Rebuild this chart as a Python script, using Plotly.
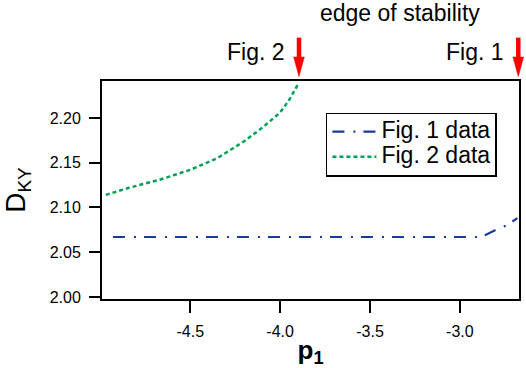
import plotly.graph_objects as go

# Fig. 1 data (blue, dash-dot)
p1_fig1 = [-4.93, -4.5, -4.0, -3.5, -3.0, -2.90, -2.86, -2.83, -2.79, -2.74, -2.68]
d_fig1 = [2.067, 2.067, 2.067, 2.067, 2.067, 2.067, 2.069, 2.072, 2.076, 2.080, 2.088]

# Fig. 2 data (green, dotted)
p1_fig2 = [-4.97, -4.84, -4.67, -4.50, -4.35, -4.20, -4.10, -4.00, -3.95, -3.90]
d_fig2 = [2.114, 2.122, 2.131, 2.142, 2.155, 2.174, 2.189, 2.206, 2.220, 2.238]

x_ticks = [-4.5, -4.0, -3.5, -3.0]
y_ticks = [2.00, 2.05, 2.10, 2.15, 2.20]

x_range = [-4.991, -2.671]
y_range = [1.9977, 2.2413]

# stability edges marked by red arrows
edge_labels = ["Fig. 2", "Fig. 1"]
edge_p1 = [-3.895, -2.675]

FONT = "Liberation Sans, Arial, sans-serif"

def big(txt):
    # legend rows keep a tight spacing while the text itself is larger
    return f"<span style='font-size:23px'>{txt}</span>"

fig = go.Figure()

fig.add_trace(go.Scatter(
    x=p1_fig1, y=d_fig1, mode="lines", name=big("Fig. 1 data"),
    line=dict(color="#1a3a9c", width=2.2, dash="12px,9px,2px,8px"),
))
fig.add_trace(go.Scatter(
    x=p1_fig2, y=d_fig2, mode="lines", name=big("Fig. 2 data"),
    line=dict(color="#00a055", width=2.5, dash="4px,3px"),
))

# red arrows above the frame (paper coords so they are not clipped)
span = x_range[1] - x_range[0]
for label, xv in zip(edge_labels, edge_p1):
    xp = (xv - x_range[0]) / span
    fig.add_shape(type="line", xref="paper", yref="paper",
                  x0=xp, x1=xp, y0=1.199, y1=1.10,
                  line=dict(color="#ff0000", width=4.5))
    hw = 0.0128
    fig.add_shape(type="path", xref="paper", yref="paper",
                  path=f"M {xp - hw},1.110 L {xp + hw},1.110 L {xp},1.020 Z",
                  fillcolor="#ff0000", line=dict(color="#ff0000", width=0.5))
    fig.add_annotation(
        x=xp, y=1.133, xref="paper", yref="paper", text=label, showarrow=False,
        xanchor="right", yanchor="middle", xshift=-12,
        font=dict(size=23, color="black", family=FONT),
    )

fig.add_annotation(
    x=0.7146, y=1.312, xref="paper", yref="paper", text="edge of stability",
    showarrow=False, xanchor="center", yanchor="middle",
    font=dict(size=23, color="black", family=FONT),
)

fig.update_layout(
    width=526, height=368,
    margin=dict(l=102, r=7, t=81, b=69),
    paper_bgcolor="white", plot_bgcolor="white",
    font=dict(family=FONT, color="black"),
    showlegend=True,
    legend=dict(
        x=0.537, y=0.855, xanchor="left", yanchor="top",
        bordercolor="black", borderwidth=1.5, bgcolor="white",
        font=dict(size=17, family=FONT), tracegroupgap=0, itemwidth=44,
    ),
    xaxis=dict(
        range=x_range, tickvals=x_ticks, ticktext=["-4.5", "-4.0", "-3.5", "-3.0"],
        showgrid=False, zeroline=False, showline=True, linecolor="black", linewidth=2,
        mirror=True, ticks="outside", ticklen=12, tickwidth=2, tickcolor="black",
        tickfont=dict(size=16), automargin=False, ticklabelstandoff=5,
        title=dict(text="<b>p<sub>1</sub></b>", font=dict(size=26), standoff=4),
    ),
    yaxis=dict(
        range=y_range, tickvals=y_ticks, tickformat=".2f",
        showgrid=False, zeroline=False, showline=True, linecolor="black", linewidth=2,
        mirror=True, ticks="outside", ticklen=11, tickwidth=2, tickcolor="black",
        tickfont=dict(size=16), automargin=False, ticklabelstandoff=5,
        title=dict(text="D<sub><span style='font-size:19px'>KY</span></sub>",
                   font=dict(size=28), standoff=16),
    ),
)

fig.write_html("out.html", config={"displayModeBar": False},
               post_script="document.body.style.margin='0';")
